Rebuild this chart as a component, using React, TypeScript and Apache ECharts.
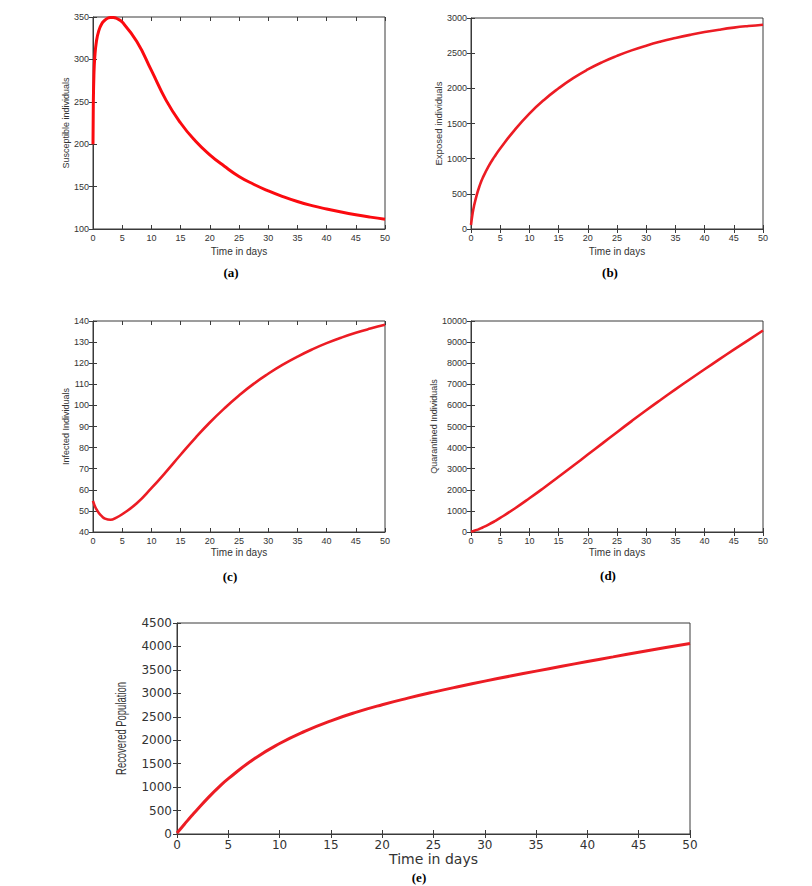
import React, { useEffect, useRef } from "react";
import * as echarts from "echarts";

const timeA = [0, 0.05, 0.15, 0.3, 0.6, 1, 1.5, 2, 2.5, 3, 3.5, 4, 5, 7.5, 10, 12.5, 15, 17.5, 20, 22.5, 25, 27.5, 30, 32.5, 35, 37.5, 40, 42.5, 45, 47.5, 50];
const susceptible = [200, 245, 280, 302, 322, 334, 342, 346, 348.5, 349.5, 349.5, 348.5, 344, 321, 287, 252, 225, 204, 187.5, 174, 162, 152.8, 145, 138.2, 132.4, 127.6, 123.6, 120, 116.8, 114, 111.5];

const timeB = [0, 0.25, 0.5, 1, 1.5, 2, 3, 4, 5, 7.5, 10, 12.5, 15, 17.5, 20, 22.5, 25, 27.5, 30, 32.5, 35, 37.5, 40, 42.5, 45, 47.5, 50];
const exposed = [57, 210, 320, 490, 620, 725, 890, 1025, 1145, 1410, 1640, 1835, 2000, 2145, 2268, 2373, 2462, 2540, 2607, 2665, 2715, 2760, 2800, 2834, 2863, 2886, 2905];
const infected = [54.7, 52.7, 51.2, 49, 47.5, 46.4, 45.8, 46.8, 48.4, 53.6, 60.75, 68.5, 76.6, 84.5, 91.9, 98.6, 104.7, 110.2, 115, 119.3, 123.1, 126.5, 129.5, 132.1, 134.4, 136.4, 138.2];
const quarantined = [20, 35, 55, 100, 155, 215, 350, 500, 665, 1115, 1598, 2100, 2615, 3140, 3670, 4200, 4730, 5255, 5770, 6270, 6760, 7240, 7713, 8180, 8640, 9095, 9550];
const recovered = [20, 85, 150, 280, 405, 528, 765, 985, 1180, 1600, 1929, 2194, 2414, 2599, 2757, 2897, 3026, 3146, 3260, 3369, 3474, 3577, 3678, 3778, 3877, 3972, 4062];

const xTitle = "Time in days";
const yTitles = ["Susceptible individuals", "Exposed individuals", "Infected Individuals", "Quarantined Individuals", "Recovered Population"];
const panelTags = ["(a)", "(b)", "(c)", "(d)", "(e)"];

const TXT = "#333333";

type Panel = {
  grid: { left: number; top: number; width: number; height: number };
  t: number[];
  v: number[];
  yMin: number;
  yMax: number;
  yInt: number;
  yGap: number;
  font: string;
  tickSize: number;
  nameSize: number;
  xNameSize: number;
  xGap: number;
  color: string;
  width: number;
  tag: [number, number];
};

const panels: Panel[] = [
  { grid: { left: 93, top: 17, width: 292, height: 212 }, t: timeA, v: susceptible, yMin: 100, yMax: 350, yInt: 50, yGap: 18, font: "Liberation Sans", tickSize: 9, nameSize: 9, xNameSize: 10, xGap: 17, color: "#fb0a0f", width: 3, tag: [231, 272] },
  { grid: { left: 471, top: 18, width: 292, height: 211 }, t: timeB, v: exposed, yMin: 0, yMax: 3000, yInt: 500, yGap: 23, font: "Liberation Sans", tickSize: 9, nameSize: 9.5, xNameSize: 10, xGap: 17, color: "#ec1c24", width: 2.6, tag: [610, 272] },
  { grid: { left: 93, top: 321, width: 292, height: 211 }, t: timeB, v: infected, yMin: 40, yMax: 140, yInt: 10, yGap: 17, font: "Liberation Sans", tickSize: 9, nameSize: 9, xNameSize: 10, xGap: 15.5, color: "#ec1c24", width: 2.6, tag: [230, 576] },
  { grid: { left: 471, top: 321, width: 292, height: 211 }, t: timeB, v: quarantined, yMin: 0, yMax: 10000, yInt: 1000, yGap: 29, font: "Liberation Sans", tickSize: 9, nameSize: 9, xNameSize: 10, xGap: 15.5, color: "#ec1c24", width: 2.6, tag: [608, 575] },
  { grid: { left: 177, top: 623, width: 513, height: 211 }, t: timeB, v: recovered, yMin: 0, yMax: 4500, yInt: 500, yGap: 40, font: "DejaVu Sans", tickSize: 12, nameSize: 15, xNameSize: 14, xGap: 12, color: "#ec1c24", width: 3, tag: [419, 877] },
];

function measure(text: string, font: string): number {
  const c = document.createElement("canvas").getContext("2d");
  if (!c) return text.length * 7;
  c.font = font;
  return c.measureText(text).width;
}

export default function App() {
  const ref = useRef<HTMLDivElement>(null);
  useEffect(() => {
    if (!ref.current) return;
    const chart = echarts.init(ref.current, null, { renderer: "svg" });
    const grid: any[] = [];
    const xAxis: any[] = [];
    const yAxis: any[] = [];
    const series: any[] = [];
    const graphic: any[] = [];
    const fmt = (v: number) => String(v);
    panels.forEach((p, i) => {
      grid.push({ ...p.grid, show: true, borderColor: "#3a3a3a", borderWidth: 1, backgroundColor: "#fff" });
      const tickStyle = { inside: true, length: 4, lineStyle: { color: "#3a3a3a" } };
      const lab = { color: TXT, fontSize: p.tickSize, fontFamily: p.font, margin: i === 4 ? 5 : 4, formatter: fmt };
      xAxis.push({
        type: "value", gridIndex: i, min: 0, max: 50, interval: 5, position: "bottom",
        axisLine: { show: true, lineStyle: { color: "#3a3a3a" } }, axisTick: tickStyle,
        axisLabel: lab, splitLine: { show: false },
        name: xTitle, nameLocation: "middle", nameGap: p.xGap,
        nameTextStyle: { color: TXT, fontSize: p.xNameSize, fontFamily: p.font },
      });
      xAxis.push({
        type: "value", gridIndex: i, min: 0, max: 50, interval: 5, position: "top",
        axisLine: { show: false }, axisTick: tickStyle, axisLabel: { show: false }, splitLine: { show: false },
      });
      yAxis.push({
        type: "value", gridIndex: i, min: p.yMin, max: p.yMax, interval: p.yInt, position: "left",
        axisLine: { show: true, lineStyle: { color: "#3a3a3a" } }, axisTick: tickStyle,
        axisLabel: lab, splitLine: { show: false },
        name: i === 4 ? "" : yTitles[i], nameLocation: "middle", nameGap: p.yGap,
        nameTextStyle: { color: TXT, fontSize: p.nameSize, fontFamily: p.font },
      });
      yAxis.push({
        type: "value", gridIndex: i, min: p.yMin, max: p.yMax, interval: p.yInt, position: "right",
        axisLine: { show: false }, axisTick: tickStyle, axisLabel: { show: false }, splitLine: { show: false },
      });
      series.push({
        type: "line", xAxisIndex: i * 2, yAxisIndex: i * 2,
        data: p.t.map((t, k) => [t, p.v[k]]),
        smooth: 0.5, showSymbol: false, symbol: "none",
        lineStyle: { color: p.color, width: p.width }, clip: true,
      });
      graphic.push({
        type: "text",
        x: p.tag[0],
        y: p.tag[1],
        style: {
          text: panelTags[i], fill: "#000", font: "bold 13px 'Liberation Serif', serif",
          textAlign: "center", textVerticalAlign: "middle",
        },
      });
    });
    // condensed vertical title of panel (e)
    const eFont = "15px 'Liberation Sans', Arial, sans-serif";
    const eW = measure(yTitles[4], eFont);
    graphic.push({
      type: "text",
      x: 121,
      y: 728.5,
      rotation: Math.PI / 2,
      scaleX: 93 / eW,
      scaleY: 1,
      style: {
        text: yTitles[4], fill: TXT, font: eFont,
        textAlign: "center", textVerticalAlign: "middle",
      },
    });
    chart.setOption({
      animation: false,
      backgroundColor: "#fff",
      grid, xAxis, yAxis, series, graphic,
    });
    return () => chart.dispose();
  }, []);
  return <div ref={ref} style={{ position: "fixed", left: 0, top: 0, width: 812, height: 886 }} />;
}
